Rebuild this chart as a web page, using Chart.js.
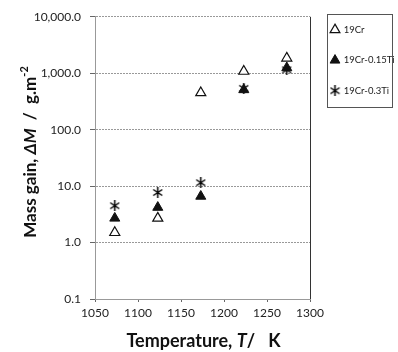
<!DOCTYPE html>
<html>
<head>
<meta charset="utf-8">
<script src="https://cdn.jsdelivr.net/npm/chart.js@4.4.0/dist/chart.umd.min.js"></script>
<style>
  html, body { margin: 0; padding: 0; background: #fff; }
  #wrap { width: 398px; height: 352px; }
</style>
</head>
<body>
<div id="wrap"><canvas id="myChart" width="398" height="352"></canvas></div>
<script>
// temperatures (K) and mass gain (g.m-2)
const temps = [1073, 1123, 1173, 1223, 1273];
const cr19 = [1.5, 2.7, 450, 1080, 1850];
const cr19Ti015 = [2.7, 4.2, 6.6, 510, 1250];
const cr19Ti03 = [4.5, 7.7, 11.5, 540, 1150];
const yTicks = [0.1, 1, 10, 100, 1000, 10000];
const seriesNames = ['19Cr', '19Cr-0.15Ti', '19Cr-0.3Ti'];

// axis titles, split so the symbols can be set in italics
const xTitle = [{ t: 'Temperature, ' }, { t: 'T', it: true }, { t: '/   K' }];
const yTitle = [{ t: 'Mass gain, ' }, { t: 'ΔM', it: true }, { t: '  /  g.m' }, { t: '-2', sup: true }];

const FONT = 'Lato, "Open Sans", sans-serif';

// asterisk-like marker (x with a vertical stroke)
function makeStar(size) {
    const c = document.createElement('canvas');
    c.width = size; c.height = size;
    const g = c.getContext('2d');
    g.strokeStyle = '#000';
    g.lineWidth = 1.5;
    const m = size / 2;
    g.beginPath();
    g.moveTo(1, 2.5); g.lineTo(size - 1, size - 2.5);
    g.moveTo(size - 1, 2.5); g.lineTo(1, size - 2.5);
    g.moveTo(m, 0); g.lineTo(m, size);
    g.stroke();
    return c;
}
const star = makeStar(11);

function pts(ys) {
    return temps.map((t, i) => ({ x: t, y: ys[i] }));
}

function partFont(p, size) {
    return (p.it ? 'italic ' : '') + 'bold ' + (p.sup ? Math.round(size * 0.62) : size) + 'px ' + FONT;
}

// draws a run of text parts centred on (0,0) of the current transform
function drawRich(ctx, parts, size) {
    let total = 0;
    const widths = parts.map(p => {
        ctx.font = partFont(p, size);
        const w = ctx.measureText(p.t).width;
        total += w;
        return w;
    });
    let x = -total / 2;
    ctx.textBaseline = 'middle';
    ctx.textAlign = 'left';
    parts.forEach((p, i) => {
        ctx.font = partFont(p, size);
        ctx.fillText(p.t, x, p.sup ? -size * 0.38 : 0);
        x += widths[i];
    });
}

const frame = {
    id: 'frame',
    afterDraw(chart) {
        const { ctx, chartArea: a, legend } = chart;
        ctx.save();
        ctx.strokeStyle = '#333';
        ctx.lineWidth = 1;
        ctx.beginPath();
        ctx.moveTo(Math.round(a.right) + 0.5, a.top);
        ctx.lineTo(Math.round(a.right) + 0.5, a.bottom);
        ctx.stroke();

        const hb = legend.legendHitBoxes;
        if (hb && hb.length) {
            const l = Math.min(...hb.map(h => h.left)) - 4;
            const r = Math.max(...hb.map(h => h.left + h.width)) + 2;
            const t = hb[0].top - 11;
            const b = hb[hb.length - 1].top + hb[hb.length - 1].height + 11;
            ctx.strokeStyle = '#555';
            ctx.strokeRect(Math.round(l) + 0.5, Math.round(t) + 0.5, Math.round(Math.min(r, 392) - l), Math.round(b - t));
        }

        ctx.fillStyle = '#111';
        ctx.save();
        ctx.translate((a.left + a.right) / 2 + 1, 341);
        drawRich(ctx, xTitle, 18);
        ctx.restore();
        ctx.save();
        ctx.translate(31, 152);
        ctx.rotate(-Math.PI / 2);
        drawRich(ctx, yTitle, 17);
        ctx.restore();
        ctx.restore();
    }
};

const ctx = document.getElementById('myChart').getContext('2d');

new Chart(ctx, {
    type: 'scatter',
    data: {
        datasets: [
            {
                label: seriesNames[0],
                data: pts(cr19),
                pointStyle: 'triangle',
                pointRadius: 5.8,
                backgroundColor: '#fff',
                borderColor: '#111',
                borderWidth: 1.2
            },
            {
                label: seriesNames[1],
                data: pts(cr19Ti015),
                pointStyle: 'triangle',
                pointRadius: 5.8,
                backgroundColor: '#111',
                borderColor: '#111',
                borderWidth: 1
            },
            {
                label: seriesNames[2],
                data: pts(cr19Ti03),
                pointStyle: star,
                pointRadius: 6,
                backgroundColor: '#111',
                borderColor: '#111'
            }
        ]
    },
    options: {
        responsive: false,
        animation: false,
        layout: { padding: { top: 4, right: 4, bottom: 0, left: 0 } },
        plugins: {
            tooltip: { enabled: false },
            legend: {
                position: 'right',
                align: 'start',
                maxWidth: 84,
                labels: {
                    usePointStyle: true,
                    boxWidth: 8,
                    boxHeight: 8,
                    padding: 21,
                    color: '#222',
                    font: { family: FONT, size: 9.5 }
                }
            }
        },
        scales: {
            x: {
                type: 'linear',
                min: 1050,
                max: 1300,
                afterFit: s => { s.height = 53; },
                ticks: {
                    stepSize: 50,
                    padding: 4,
                    color: '#222',
                    font: { family: FONT, size: 12 },
                    callback: v => String(v)
                },
                grid: { drawOnChartArea: false, tickLength: 3, color: '#666' },
                border: { color: '#999', dash: [2, 1] },
                title: { display: false }
            },
            y: {
                type: 'logarithmic',
                min: 0.1,
                max: 10000,
                afterFit: s => { s.width = 95; },
                afterBuildTicks: s => { s.ticks = yTicks.map(v => ({ value: v })); },
                ticks: {
                    padding: 9,
                    color: '#222',
                    font: { family: FONT, size: 12, lineHeight: 1.3 },
                    callback: v => Number(v).toLocaleString('en-US', { minimumFractionDigits: 1, maximumFractionDigits: 1 })
                },
                grid: { color: '#999', tickColor: '#666', tickLength: 5, tickBorderDash: [], borderDash: [2, 1] },
                border: { color: '#999', dash: [2, 1] },
                title: { display: false }
            }
        }
    },
    plugins: [frame]
});
</script>
</body>
</html>
